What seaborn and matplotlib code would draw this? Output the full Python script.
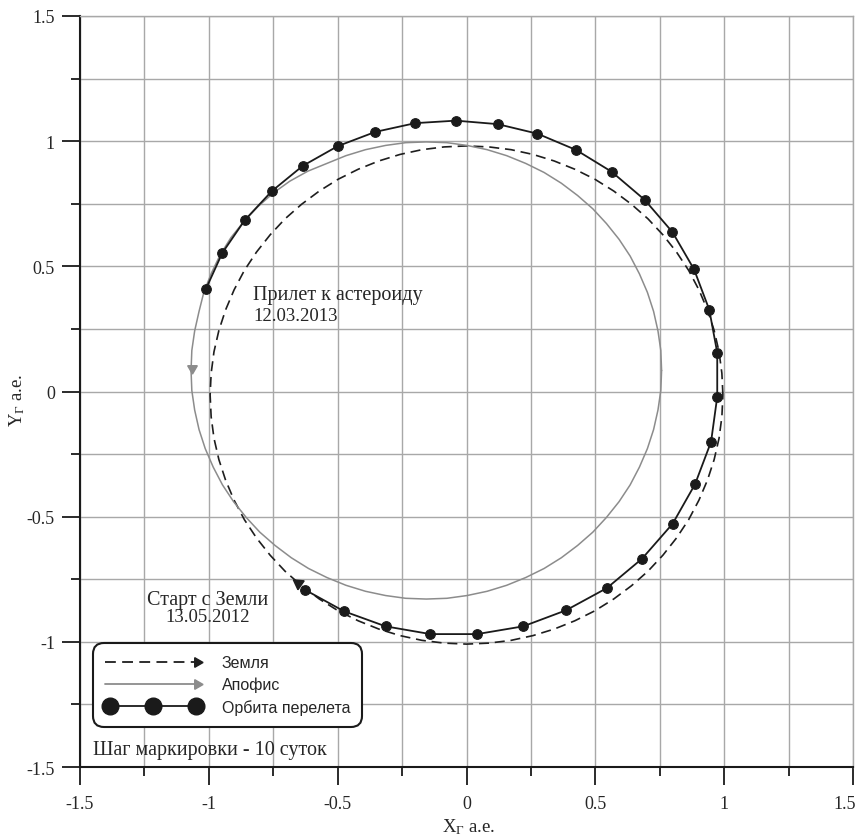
import numpy as np
import matplotlib
matplotlib.use("Agg")
import matplotlib.pyplot as plt
import matplotlib.transforms as mtransforms
import seaborn as sns
from matplotlib.lines import Line2D
from matplotlib.legend_handler import HandlerLine2D
from matplotlib.ticker import MultipleLocator, FuncFormatter

# орбита перелета, метки через 10 суток (а.е.)
transfer_x = [-0.627, -0.475, -0.314, -0.140, 0.041, 0.220, 0.386, 0.545, 0.681, 0.800,
              0.887, 0.949, 0.973, 0.973, 0.942, 0.883, 0.799, 0.691, 0.563, 0.425,
              0.275, 0.121, -0.041, -0.199, -0.354, -0.500, -0.636, -0.756, -0.861, -0.948,
              -1.012]
transfer_y = [-0.792, -0.878, -0.938, -0.969, -0.969, -0.938, -0.874, -0.785, -0.668, -0.528,
              -0.370, -0.201, -0.021, 0.155, 0.327, 0.488, 0.637, 0.766, 0.878, 0.965,
              1.030, 1.068, 1.082, 1.072, 1.037, 0.980, 0.901, 0.800, 0.684, 0.553,
              0.408]

# орбита Земли (точки)
earth_x = [0.995, 0.991, 0.980, 0.961, 0.935, 0.902, 0.862, 0.815, 0.762, 0.704,
           0.640, 0.571, 0.498, 0.420, 0.340, 0.258, 0.173, 0.087, 0.000,
           -0.087, -0.173, -0.258, -0.340, -0.420, -0.498, -0.571, -0.640, -0.704,
           -0.762, -0.815, -0.862, -0.902, -0.935, -0.961, -0.980, -0.991, -0.995,
           -0.991, -0.980, -0.961, -0.935, -0.902, -0.862, -0.815, -0.762, -0.704,
           -0.640, -0.571, -0.498, -0.420, -0.340, -0.258, -0.173, -0.087, 0.000,
           0.087, 0.173, 0.258, 0.340, 0.420, 0.498, 0.571, 0.640, 0.704,
           0.762, 0.815, 0.862, 0.902, 0.935, 0.961, 0.980, 0.991]
earth_y = [-0.014, 0.073, 0.159, 0.244, 0.326, 0.406, 0.484, 0.557, 0.626, 0.690,
           0.748, 0.801, 0.848, 0.888, 0.921, 0.947, 0.966, 0.977, 0.981,
           0.977, 0.966, 0.947, 0.921, 0.888, 0.848, 0.801, 0.748, 0.690,
           0.626, 0.557, 0.484, 0.406, 0.326, 0.244, 0.159, 0.073, -0.014,
           -0.101, -0.187, -0.272, -0.354, -0.434, -0.512, -0.585, -0.654, -0.718,
           -0.776, -0.829, -0.876, -0.916, -0.949, -0.975, -0.994, -1.005, -1.009,
           -1.005, -0.994, -0.975, -0.949, -0.916, -0.876, -0.829, -0.776, -0.718,
           -0.654, -0.585, -0.512, -0.434, -0.354, -0.272, -0.187, -0.101]

# орбита Апофиса
apophis_x = [0.757, 0.754, 0.743, 0.726, 0.702, 0.671, 0.635, 0.592, 0.543, 0.490,
             0.431, 0.368, 0.301, 0.230, 0.156, 0.080, 0.002, -0.076, -0.156,
             -0.236, -0.314, -0.392, -0.468, -0.542, -0.616, -0.686, -0.751, -0.810,
             -0.864, -0.914, -0.956, -0.990, -1.019, -1.038, -1.055, -1.066, -1.069,
             -1.066, -1.055, -1.038, -1.014, -0.983, -0.947, -0.904, -0.855, -0.802,
             -0.743, -0.680, -0.613, -0.542, -0.468, -0.392, -0.314, -0.236, -0.156,
             -0.076, 0.002, 0.080, 0.156, 0.230, 0.301, 0.368, 0.431, 0.490,
             0.543, 0.592, 0.635, 0.671, 0.702, 0.726, 0.743, 0.754]
apophis_y = [0.084, 0.164, 0.242, 0.320, 0.396, 0.470, 0.541, 0.608, 0.671, 0.730,
             0.783, 0.832, 0.875, 0.911, 0.942, 0.966, 0.983, 0.994, 0.997,
             0.994, 0.983, 0.966, 0.942, 0.911, 0.880, 0.840, 0.792, 0.738,
             0.679, 0.615, 0.546, 0.473, 0.398, 0.320, 0.242, 0.164, 0.084,
             0.004, -0.074, -0.152, -0.228, -0.302, -0.373, -0.440, -0.503, -0.562,
             -0.615, -0.664, -0.707, -0.743, -0.774, -0.798, -0.815, -0.826, -0.829,
             -0.826, -0.815, -0.798, -0.774, -0.743, -0.707, -0.664, -0.615, -0.562,
             -0.503, -0.440, -0.373, -0.302, -0.228, -0.152, -0.074, 0.004]

earth_start = [-0.655, -0.765]
apophis_pos = [-1.066, 0.093]

legend_labels = ["Земля", "Апофис", "Орбита перелета"]

dark = '#1e1e1e'
grey = '#8c8c8c'

sns.set_theme(style="white")
plt.rcParams['font.family'] = ['Liberation Serif', 'DejaVu Serif']
plt.rcParams['mathtext.fontset'] = 'custom'
plt.rcParams['mathtext.rm'] = 'Liberation Serif'
plt.rcParams['mathtext.it'] = 'Liberation Serif:italic'

fig, ax = plt.subplots(figsize=(8.62, 8.37), dpi=100)
fig.subplots_adjust(left=0.0928, right=0.9896, bottom=0.0824, top=0.9797)

# орбиты (замкнутые)
sns.lineplot(x=earth_x + earth_x[:1], y=earth_y + earth_y[:1], sort=False, estimator=None,
             ax=ax, color=dark, lw=1.2, linestyle=(0, (6, 3.5)))
sns.lineplot(x=apophis_x + apophis_x[:1], y=apophis_y + apophis_y[:1], sort=False,
             estimator=None, ax=ax, color=grey, lw=1.1)
sns.lineplot(x=transfer_x, y=transfer_y, sort=False, estimator=None, ax=ax,
             color='k', lw=1.3, marker='o', markersize=7, markeredgecolor='k')

# стрелки
ax.plot(earth_start[0], earth_start[1], marker=(3, 0, 55), ms=9, color=dark, ls='none')
ax.plot(apophis_pos[0], apophis_pos[1], marker=(3, 0, 180), ms=8, color=grey, ls='none')

# подписи
ax.text(-1.005, -0.849, "Старт с Земли", ha='center', va='baseline', fontsize=14.5)
ax.text(-1.005, -0.916, "13.05.2012", ha='center', va='baseline', fontsize=13.5)
ax.text(-0.828, 0.369, "Прилет к астероиду", ha='left', va='baseline', fontsize=14.5)
ax.text(-0.828, 0.287, "12.03.2013", ha='left', va='baseline', fontsize=13.5)
ax.text(-1.449, -1.449, "Шаг маркировки - 10 суток", ha='left', va='baseline', fontsize=14.5)

ax.set_xlim(-1.5, 1.5)
ax.set_ylim(-1.5, 1.5)
for axis in (ax.xaxis, ax.yaxis):
    axis.set_major_locator(MultipleLocator(0.5))
    axis.set_minor_locator(MultipleLocator(0.25))
    axis.set_major_formatter(FuncFormatter(lambda v, p: f"{v:g}"))
ax.grid(which='both', color='#a8a8a8', lw=1)
ax.set_axisbelow(True)
ax.tick_params(which='major', length=13, width=1.3, color='k', labelsize=13)
ax.tick_params(which='minor', length=6.5, width=1.3, color='k')
ax.tick_params(axis='x', which='major', pad=7)
ax.tick_params(axis='y', which='major', pad=5)
ax.tick_params(left=True, bottom=True, which='both')
for s in ('left', 'bottom'):
    ax.spines[s].set_color('k')
    ax.spines[s].set_linewidth(1.5)
for s in ('top', 'right'):
    ax.spines[s].set_color('#a8a8a8')
    ax.spines[s].set_linewidth(1)

ax.set_xlabel("X$_{\\mathregular{Г}}$ а.е.", fontsize=13.5)
ax.set_ylabel("Y$_{\\mathregular{Г}}$ а.е.", fontsize=13.5)
ax.xaxis.set_label_coords(0.503, -0.066)
ax.yaxis.set_label_coords(-0.069, 0.489)

# крайняя подпись 1.5 чуть левее, чтобы не обрезалась
for lab in ax.get_xticklabels():
    if lab.get_text() == "1.5":
        lab.set_transform(lab.get_transform() +
                          mtransforms.ScaledTranslation(-8 / 100, 0, fig.dpi_scale_trans))


class ArrowEnd(HandlerLine2D):
    # линия с треугольником-стрелкой на конце
    def create_artists(self, legend, orig_handle, xdescent, ydescent, width, height,
                       fontsize, trans):
        y = (height - ydescent) / 2
        line = Line2D([-xdescent, -xdescent + width - 3], [y, y])
        self.update_prop(line, orig_handle, legend)
        line.set_marker('None')
        tip = Line2D([-xdescent + width - 3], [y])
        self.update_prop(tip, orig_handle, legend)
        tip.set_linestyle('None')
        line.set_transform(trans)
        tip.set_transform(trans)
        return [line, tip]


h_earth = Line2D([], [], color=dark, lw=1.3, linestyle=(0, (6, 3.5)),
                 marker=(3, 0, -90), ms=8)
h_apophis = Line2D([], [], color=grey, lw=1.3, marker=(3, 0, -90), ms=8)
h_orbit = Line2D([], [], color='k', lw=1.3, marker='o', ms=12)
leg = ax.legend([h_earth, h_apophis, h_orbit], legend_labels,
                handler_map={h_earth: ArrowEnd(), h_apophis: ArrowEnd(),
                             h_orbit: HandlerLine2D(numpoints=3)},
                loc='lower left', bbox_to_anchor=(0.0168, 0.0533), borderaxespad=0,
                prop={'family': 'Liberation Sans', 'size': 11.5},
                handlelength=6.0, handletextpad=1.3, borderpad=0.75, labelspacing=0.42,
                frameon=True, fancybox=True, framealpha=1, edgecolor='k')
leg.get_frame().set_linewidth(1.5)
leg.get_frame().set_boxstyle('round,pad=0,rounding_size=0.7')

fig.savefig("out.png", dpi=100)
